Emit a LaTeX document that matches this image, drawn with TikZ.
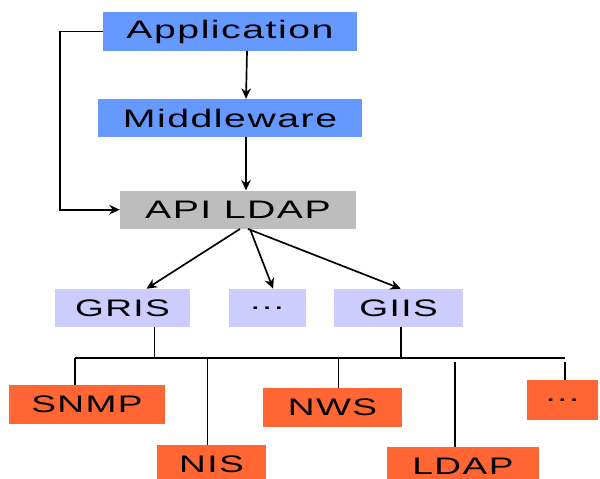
\documentclass[tikz,border=0pt]{standalone}
\usepackage{fontspec}
\newfontfamily\boxfont[FakeStretch=1.55,LetterSpace=6]{Liberation Sans}
\usetikzlibrary{arrows.meta,positioning}
\definecolor{AppBlue}{HTML}{6699FF}
\definecolor{ApiGray}{HTML}{BDBDBD}
\definecolor{InfoLilac}{HTML}{CCCCFF}
\definecolor{SrcOrange}{HTML}{FF6633}
\tikzset{
  block/.style={minimum height=0.95cm,inner sep=0pt,align=center,text=black,font=\boxfont\fontsize{18}{20}\selectfont},
  blockblue/.style={block,fill=AppBlue},
  blockgray/.style={block,fill=ApiGray},
  blocklilac/.style={block,fill=InfoLilac,font=\boxfont\fontsize{17}{19}\selectfont},
  blockorange/.style={block,fill=SrcOrange,minimum height=0.975cm,font=\boxfont\fontsize{17}{19}\selectfont},
  arrow/.style={-{Stealth[length=2.6mm,width=2.4mm]},line width=1.2pt,draw=black},
  wire/.style={line width=1.2pt,draw=black}
}
\begin{document}
\begin{tikzpicture}[x=0.025cm,y=-0.025cm]
\useasboundingbox (0,0) rectangle (600,479);
\clip (0,0) rectangle (600,479);
% clients and the LDAP API
\node[blockblue,minimum width=6.35cm] (app) at (230,31.5) {Application};
\node[blockblue,minimum width=6.575cm,below=1.2cm of app] (mid) {Middleware};
\node[blockgray,minimum width=5.9cm,below=1.325cm of mid,xshift=0.2cm] (api) {API LDAP};
\draw[arrow] ([xshift=0.425cm]app.south) -- ([xshift=0.4cm]mid.north);
\draw[arrow] ([xshift=0.4cm]mid.south) -- ([xshift=0.2cm]api.north);
\draw[arrow] (app.west) -- ([xshift=-1.075cm]app.west) |- (api.west);
% information services
\node[blocklilac,minimum width=3.375cm] (gris) at (122.5,308) {GRIS};
\node[blocklilac,minimum width=1.925cm,right=0.95cm of gris] (more) {\dots};
\node[blocklilac,minimum width=3.225cm,right=0.7cm of more] (giis) {GIIS};
\draw[arrow] ([xshift=0.05cm]api.south) -- ([xshift=0.6cm]gris.north);
\draw[arrow] ([xshift=0.3cm]api.south) -- ([xshift=0.15cm]more.north);
\draw[arrow] ([xshift=0.25cm]api.south) -- ([xshift=0.05cm]giis.north);
% information providers
\node[blockorange,minimum width=3.9cm] (snmp) at (87,404.5) {SNMP};
\node[blockorange,minimum width=2.725cm] (nis) at (211.5,464.5) {NIS};
\node[blockorange,minimum width=3.475cm] (nws) at (332.5,407.5) {NWS};
\node[blockorange,minimum width=3.8cm] (ldap) at (463,466.5) {LDAP};
\node[blockorange,minimum width=1.775cm,minimum height=1cm] (etc) at (562.5,400) {\dots};
\coordinate (busL) at (75,358);
\coordinate (busR) at (565,358);
\draw[wire] (busL) -- (busR);
\draw[wire] ([xshift=0.8cm]gris.south) -- ([xshift=0.8cm]gris.south |- busL);
\draw[wire] ([xshift=0.05cm]giis.south) -- ([xshift=0.05cm]giis.south |- busL);
\draw[wire] (snmp.north -| busL) -- (busL);
\draw[wire] ([xshift=-0.1cm]nis.north) -- ([xshift=-0.1cm]nis.north |- busL);
\draw[wire] ([xshift=0.15cm]nws.north) -- ([xshift=0.15cm]nws.north |- busL);
\draw[wire] ([xshift=-0.2cm]ldap.north) -- ++(0,-85);
\draw[wire] (etc.north -| busR) -- ++(0,-18);
\end{tikzpicture}
\end{document}
